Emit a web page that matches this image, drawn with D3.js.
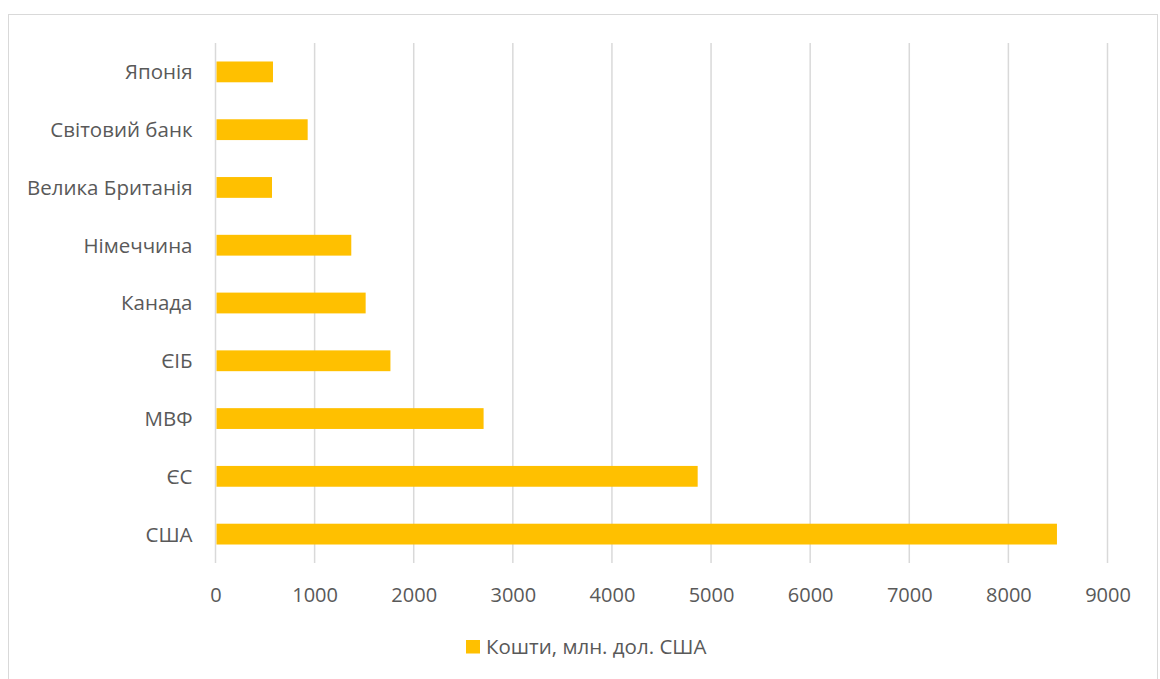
<!DOCTYPE html>
<html><head><meta charset="utf-8">
<script src="https://cdn.jsdelivr.net/npm/d3@7"></script>
<style>
body{margin:0;background:#fff;}
text{font-family:"Open Sans","Noto Sans",sans-serif;fill:#595959;}
</style></head>
<body><svg id="c" width="1160" height="679"></svg>
<script>
const categories = ["Японія","Світовий банк","Велика Британія","Німеччина","Канада","ЄІБ","МВФ","ЄС","США"];
const values = [580, 930, 570, 1370, 1515, 1765, 2705, 4865, 8490];
const xTicks = [0,1000,2000,3000,4000,5000,6000,7000,8000,9000];
const seriesName = "Кошти, млн. дол. США";

const svg = d3.select("#c");
svg.append("rect").attr("x",8.5).attr("y",14.5).attr("width",1149).attr("height",680)
  .attr("fill","#fff").attr("stroke","#d9d9d9").attr("stroke-width",1);

const m = {left:215.5, right:1107.5, top:43, bottom:563};
const x = d3.scaleLinear().domain([0,9000]).range([m.left,m.right]);
const y = d3.scaleBand().domain(categories).range([m.top,m.bottom]).paddingInner(0.64).paddingOuter(0.32);

const g = svg.append("g");
g.selectAll("line.grid").data(xTicks).enter().append("line")
  .attr("x1",d=>x(d)).attr("x2",d=>x(d)).attr("y1",m.top).attr("y2",m.bottom)
  .attr("stroke","#d9d9d9").attr("stroke-width",1.5);

g.selectAll("rect.bar").data(values).enter().append("rect")
  .attr("x",x(0)+1).attr("y",(d,i)=>y(categories[i]))
  .attr("width",d=>x(d)-x(0)-1).attr("height",y.bandwidth())
  .attr("fill","#ffc000");

const xa = svg.append("g").attr("transform",`translate(0,${m.bottom})`)
  .call(d3.axisBottom(x).tickValues(xTicks).tickSize(0).tickPadding(24.5).tickFormat(d3.format("d")));
xa.select(".domain").remove();
xa.selectAll("text").attr("font-size",20).attr("font-family",null);

const ya = svg.append("g").attr("transform",`translate(${m.left},0)`)
  .call(d3.axisLeft(y).tickSize(0).tickPadding(23));
ya.select(".domain").remove();
ya.selectAll("text").attr("font-size",20.5).attr("dy","0.36em").attr("font-family",null);

const lg = svg.append("g");
lg.append("rect").attr("x",466).attr("y",640).attr("width",14).attr("height",13.5).attr("fill","#ffc000");
lg.append("text").attr("x",486).attr("y",654.3).attr("font-size",20.5).text(seriesName);
</script></body></html>
